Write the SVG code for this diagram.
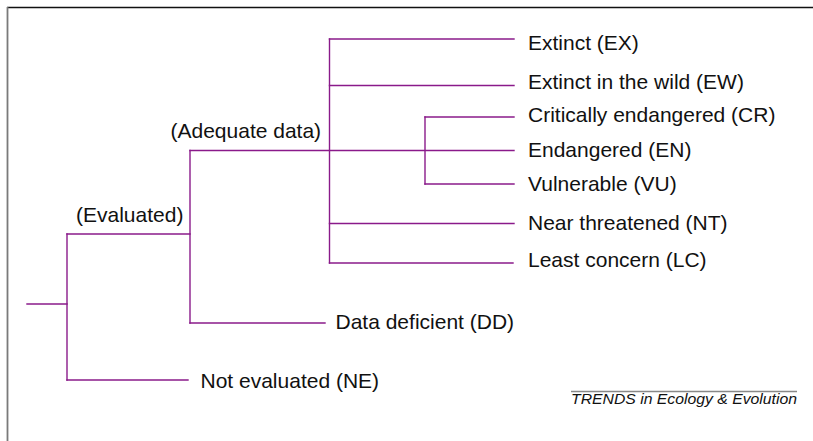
<svg xmlns="http://www.w3.org/2000/svg" width="813" height="441" viewBox="0 0 813 441">
  <style>
    .frame-top { stroke: #111; stroke-width: 1.6; fill: none; }
    .frame-left { stroke: #7a7a7a; stroke-width: 1.8; fill: none; }
    .branch { stroke: #8a1a8a; stroke-width: 1.4; fill: none; stroke-linecap: square; }
    .label { font-family: "Liberation Sans", Arial, sans-serif; font-size: 21px; fill: #111; }
    .credit { font-family: "Liberation Sans", Arial, sans-serif; font-size: 14.5px; font-style: italic; fill: #111; }
    .rule { stroke: #888; stroke-width: 1.3; }
  </style>

  <rect width="813" height="441" fill="#fff"/>

  <!-- frame -->
  <line class="frame-top" x1="7" y1="7.5" x2="813" y2="7.5"/>
  <line class="frame-left" x1="7.5" y1="7" x2="7.5" y2="441"/>

  <!-- tree connectors -->
  <g id="connectors" class="branch">
    <path d="M27 304 H67"/>
    <path d="M67 234 V380"/>
    <path d="M67 234 H190"/>
    <path d="M67 380 H188"/>
    <path d="M190 150.5 V323"/>
    <path d="M190 323 H325"/>
    <path d="M190 150.5 H514"/>
    <path d="M329.5 39 V263"/>
    <path d="M329.5 39 H514"/>
    <path d="M329.5 85.5 H514"/>
    <path d="M329.5 223.5 H514"/>
    <path d="M329.5 263 H513"/>
    <path d="M425 117 V184"/>
    <path d="M425 117 H514"/>
    <path d="M425 184 H514"/>
  </g>

  <!-- internal node labels -->
  <g id="evaluated"><text class="label" x="76" y="222">(Evaluated)</text></g>
  <g id="adequate-data"><text class="label" x="170.5" y="138">(Adequate data)</text></g>

  <!-- categories -->
  <g id="ex"><text class="label" x="528" y="50">Extinct (EX)</text></g>
  <g id="ew"><text class="label" x="528" y="88.5">Extinct in the wild (EW)</text></g>
  <g id="cr"><text class="label" x="528" y="121.5">Critically endangered (CR)</text></g>
  <g id="en"><text class="label" x="528" y="156.5">Endangered (EN)</text></g>
  <g id="vu"><text class="label" x="528" y="191">Vulnerable (VU)</text></g>
  <g id="nt"><text class="label" x="528" y="230">Near threatened (NT)</text></g>
  <g id="lc"><text class="label" x="528" y="266.5">Least concern (LC)</text></g>
  <g id="dd"><text class="label" x="335.5" y="329">Data deficient (DD)</text></g>
  <g id="ne"><text class="label" x="200.5" y="388">Not evaluated (NE)</text></g>

  <!-- journal credit -->
  <g id="credit">
    <line class="rule" x1="571" y1="391.5" x2="797" y2="391.5"/>
    <text class="credit" x="571" y="404" textLength="226" lengthAdjust="spacingAndGlyphs">TRENDS in Ecology &amp; Evolution</text>
  </g>
</svg>
